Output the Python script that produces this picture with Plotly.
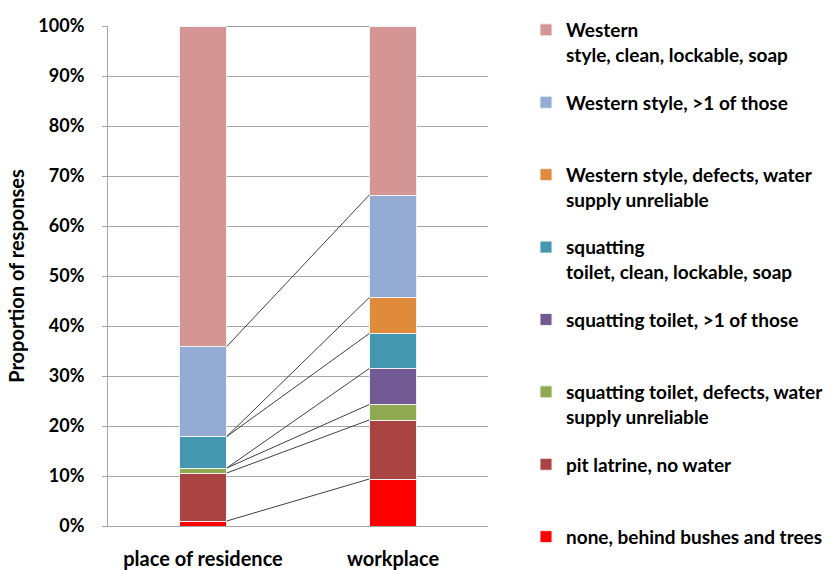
import plotly.graph_objects as go
import numpy as np

# Locations compared (x categories)
sites = ["place of residence", "workplace"]

# Toilet types, stacked from the bottom up
categories = [
    "none, behind bushes and trees",
    "pit latrine, no water",
    "squatting toilet, defects, water<br>supply unreliable",
    "squatting toilet, >1 of those",
    "squatting<br>toilet, clean, lockable, soap",
    "Western style, defects, water<br>supply unreliable",
    "Western style, >1 of those",
    "Western<br>style, clean, lockable, soap",
]

# Share of responses (%) per toilet type
residence = [1.0, 9.6, 1.0, 0.0, 6.3, 0.0, 18.0, 64.1]
workplace = [9.4, 11.8, 3.1, 7.2, 7.0, 7.2, 20.5, 33.8]

colors = ["#FF0000", "#A94442", "#8FAA50", "#735A94",
          "#4397AE", "#E08A3C", "#94ACD4", "#D49694"]

ytick_vals = [0, 10, 20, 30, 40, 50, 60, 70, 80, 90, 100]
ytick_text = [f"{v}%" for v in ytick_vals]

bar_w = 0.25
xpos = [0, 1]

fig = go.Figure()

# Stacked segments; legend entries padded to two lines so spacing is even
n = len(categories)
for i, (name, r, w, c) in enumerate(zip(categories, residence, workplace, colors)):
    label = name if ("<br>" in name or i == 0) else name + "<br>\u00a0"
    fig.add_trace(go.Bar(
        x=xpos, y=[r, w], name=label, width=bar_w,
        marker=dict(color=c, line=dict(color="#F2F2F2", width=1)),
        legendgroup=name, legendrank=n - i,
    ))

# Series lines joining the top of each segment between the two bars
top_r = np.cumsum(residence)
top_w = np.cumsum(workplace)
lx, ly = [], []
for a, b in zip(top_r, top_w):
    lx += [xpos[0] + bar_w / 2, xpos[1] - bar_w / 2, None]
    ly += [a, b, None]
fig.add_trace(go.Scatter(
    x=lx, y=ly, mode="lines", line=dict(color="#404040", width=1),
    showlegend=False, hoverinfo="skip",
))

fig.update_layout(
    barmode="stack",
    width=833, height=570,
    margin=dict(l=108, r=345, t=26, b=44),
    paper_bgcolor="white", plot_bgcolor="white",
    font=dict(family="Lato", size=16, color="#000000", weight="bold"),
    legend=dict(
        xref="container", x=526 / 833, xanchor="left",
        yref="container", y=1 - 11 / 570, yanchor="top",
        traceorder="grouped", tracegroupgap=20, maxheight=1,
        valign="top", font=dict(size=19),
        itemclick=False,
    ),
    xaxis=dict(
        range=[-0.5, 1.5], tickvals=xpos, ticktext=sites,
        showgrid=False, zeroline=False, automargin=False,
        showline=True, linecolor="#A6A6A6", linewidth=1,
        ticks="", ticklabelstandoff=15, tickfont=dict(size=20),
    ),
    yaxis=dict(
        range=[0, 100], tickvals=ytick_vals, ticktext=ytick_text,
        showgrid=True, gridcolor="#A6A6A6", gridwidth=1, automargin=False,
        zeroline=False, showline=True, linecolor="#A6A6A6", linewidth=1,
        ticks="outside", ticklen=5, tickcolor="#A6A6A6",
        ticklabelstandoff=14, tickfont=dict(size=18),
        title=dict(text="Proportion of responses", standoff=8,
                   font=dict(size=20)),
    ),
)

fig.write_html("out.html")
